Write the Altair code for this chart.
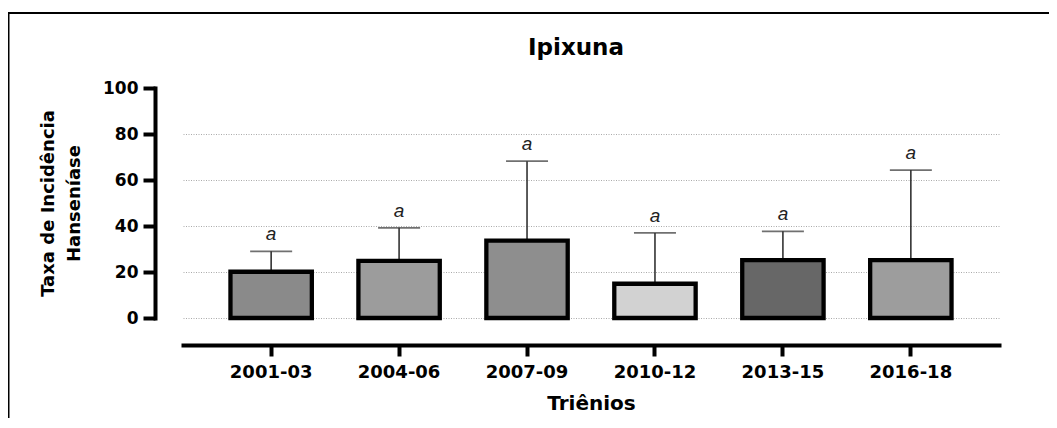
import altair as alt
import pandas as pd

periods = ["2001-03", "2004-06", "2007-09", "2010-12", "2013-15", "2016-18"]
means = [20.1, 24.8, 33.6, 14.9, 25.2, 25.2]
uppers = [29.0, 39.2, 68.2, 37.0, 37.7, 64.3]
letters = ["a", "a", "a", "a", "a", "a"]
fills = ["#8a8a8a", "#9c9c9c", "#8e8e8e", "#d2d2d2", "#676767", "#9d9d9d"]
y_ticks = [0, 20, 40, 60, 80, 100]

df = pd.DataFrame({"period": periods, "mean": means, "upper": uppers,
                   "letter": letters, "fill": fills})

FONT = "DejaVu Sans"

x_enc = alt.X("period:N", sort=periods,
              scale=alt.Scale(paddingInner=0.364, paddingOuter=0.371),
              axis=alt.Axis(title="Triênios", offset=27, domainWidth=4,
                            domainColor="black", domainCap="square",
                            tickWidth=4, tickSize=11, tickColor="black",
                            labelAngle=0, labelFont=FONT, labelFontSize=18,
                            labelFontWeight="bold", labelColor="black",
                            labelPadding=7, titleFont=FONT, titleFontSize=20,
                            titleFontWeight="bold", titleColor="black",
                            titlePadding=12, grid=False))

y_scale = alt.Scale(domain=[0, 100], nice=False)
y_axis = alt.Axis(values=y_ticks, offset=28, domainWidth=4, domainColor="black",
                  domainCap="square", tickWidth=4, tickSize=12, tickColor="black",
                  labelFont=FONT, labelFontSize=17, labelFontWeight="bold",
                  labelColor="black", labelPadding=5,
                  title=["Taxa de Incidência", "Hanseníase"],
                  titleFont=FONT, titleFontSize=18, titleFontWeight="bold",
                  titleColor="black", titlePadding=19, titleLineHeight=26,
                  grid=True, gridColor="#aaaaaa", gridDash=[1, 1.5], gridWidth=1,
                  gridOpacity=alt.condition(alt.datum.value == 100, alt.value(0), alt.value(1)))

base = alt.Chart(df)

frame = alt.Chart(pd.DataFrame({"frame": [0]})).mark_rect(
    fillOpacity=0, stroke="black", strokeWidth=2
).encode(x=alt.value(-174.5), x2=alt.value(900), y=alt.value(-75), y2=alt.value(400))

rule = base.mark_rule(color="#333333", strokeWidth=1.6).encode(
    x=x_enc,
    y=alt.Y("mean:Q", scale=y_scale, axis=y_axis),
    y2="upper:Q",
)

cap = base.mark_tick(color="#333333", thickness=1.8, size=42).encode(
    x=alt.X("period:N", sort=periods),
    y=alt.Y("upper:Q"),
)

bars = base.mark_bar(stroke="black", strokeWidth=4.3).encode(
    x=alt.X("period:N", sort=periods),
    y=alt.Y("mean:Q"),
    fill=alt.Fill("fill:N", scale=None),
)

labels = base.mark_text(font="Liberation Sans", fontStyle="italic", fontSize=19,
                        color="#222222", baseline="alphabetic", dy=-11).encode(
    x=alt.X("period:N", sort=periods),
    y=alt.Y("upper:Q"),
    text="letter:N",
)

chart = alt.layer(frame, rule, cap, bars, labels).properties(
    width=816, height=230,
    background="white",
    title=alt.TitleParams("Ipixuna", font=FONT, fontSize=23, fontWeight="bold",
                          color="black", anchor="middle", dx=-15, offset=0,
                          dy=66, baseline="alphabetic"),
    autosize=alt.AutoSizeParams(type="none"),
    padding={"left": 175, "top": 80, "right": 50, "bottom": 100},
).configure_view(strokeWidth=0, stroke=None)

chart.save("out.html", embed_options={"renderer": "svg", "actions": False})
